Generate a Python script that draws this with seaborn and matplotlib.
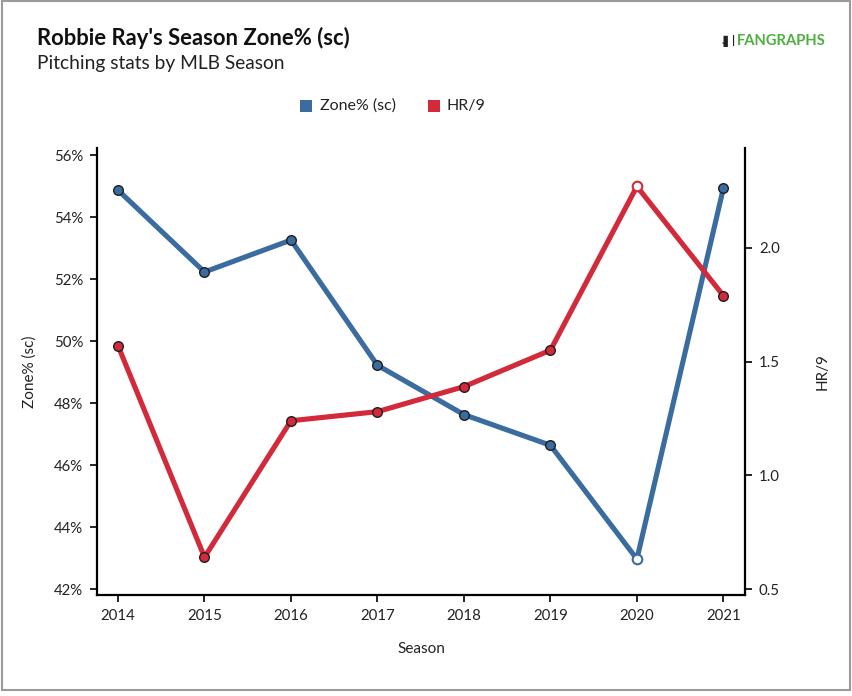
import matplotlib
matplotlib.use("Agg")
import matplotlib.pyplot as plt
from matplotlib.patches import Rectangle
from matplotlib.ticker import FuncFormatter, MultipleLocator
import seaborn as sns
import pandas as pd

seasons = [2014, 2015, 2016, 2017, 2018, 2019, 2020, 2021]
zone_pct = [54.87, 52.23, 53.26, 49.22, 47.63, 46.64, 42.97, 54.93]
hr9 = [1.57, 0.64, 1.24, 1.28, 1.39, 1.55, 2.27, 1.79]
partial = [False, False, False, False, False, False, True, False]

title = "Robbie Ray's Season Zone% (sc)"
subtitle = "Pitching stats by MLB Season"
zone_label = "Zone% (sc)"
hr_label = "HR/9"
x_label = "Season"

BLUE = "#3a6ca0"
RED = "#d22a3a"
EDGE = "#1e1e1e"

df = pd.DataFrame({"Season": seasons, "Zone": zone_pct, "HR9": hr9, "partial": partial})

sns.set_theme(style="white")
plt.rcParams["font.family"] = ["Lato", "DejaVu Sans"]

fig = plt.figure(figsize=(8.53, 6.96), dpi=100)
ax = fig.add_axes([97 / 853, 1 - 595 / 696, (745 - 97) / 853, (595 - 148) / 696])
ax2 = ax.twinx()

sns.lineplot(data=df, x="Season", y="Zone", ax=ax, color=BLUE, linewidth=3.7, zorder=2)
sns.lineplot(data=df, x="Season", y="HR9", ax=ax2, color=RED, linewidth=3.7, zorder=2)

full = df[~df["partial"]]
part = df[df["partial"]]
sns.scatterplot(data=full, x="Season", y="Zone", ax=ax, color=BLUE, edgecolor=EDGE,
                linewidth=1.0, s=48, zorder=3)
sns.scatterplot(data=part, x="Season", y="Zone", ax=ax, color="white", edgecolor=BLUE,
                linewidth=1.5, s=48, zorder=3)
sns.scatterplot(data=full, x="Season", y="HR9", ax=ax2, color=RED, edgecolor=EDGE,
                linewidth=1.0, s=48, zorder=3)
sns.scatterplot(data=part, x="Season", y="HR9", ax=ax2, color="white", edgecolor=RED,
                linewidth=1.5, s=48, zorder=3)

ax.set_xlim(2013.757, 2021.25)
ax.set_ylim(41.81, 56.23)
ax2.set_ylim(0.474, 2.439)
ax.set_xticks(seasons)
ax.yaxis.set_major_locator(MultipleLocator(2))
ax.yaxis.set_major_formatter(FuncFormatter(lambda v, p: f"{v:.0f}%"))
ax2.set_yticks([0.5, 1.0, 1.5, 2.0])
ax2.yaxis.set_major_formatter(FuncFormatter(lambda v, p: f"{v:.1f}"))

for a in (ax, ax2):
    a.set_facecolor("none")
    for s in a.spines.values():
        s.set_visible(False)
    a.grid(False)
ax.spines["left"].set_visible(True)
ax.spines["bottom"].set_visible(True)
ax2.spines["right"].set_visible(True)
for s in (ax.spines["left"], ax.spines["bottom"], ax2.spines["right"]):
    s.set_color("black")
    s.set_linewidth(1.6)

ax.tick_params(axis="both", which="major", direction="out", length=5, width=1.2,
               color="black", labelsize=10.8, labelcolor="#222222", pad=5,
               left=True, bottom=True)
ax2.tick_params(axis="y", which="major", direction="out", length=5, width=1.2,
                color="black", labelsize=10.8, labelcolor="#222222", pad=5, right=True)

ax.set_xlabel(x_label, fontsize=11, color="#222222", labelpad=14)
ax.set_ylabel(zone_label, fontsize=11, color="#222222", labelpad=12)
ax2.set_ylabel(hr_label, fontsize=11, color="#222222", labelpad=26)

# Titles
fig.text(37 / 853, 1 - 38 / 696, title, fontsize=15.8, fontweight="bold", color="#111111",
         ha="left", va="center")
fig.text(37 / 853, 1 - 64 / 696, subtitle, fontsize=13.8, color="#222222",
         ha="left", va="center")

# Legend
fig.patches.append(Rectangle((300 / 853, 1 - 112 / 696), 12 / 853, 12 / 696,
                             transform=fig.transFigure, facecolor=BLUE, edgecolor="none"))
fig.text(320 / 853, 1 - 106 / 696, zone_label, fontsize=11.5, color="#222222",
         ha="left", va="center")
fig.patches.append(Rectangle((428 / 853, 1 - 112 / 696), 12 / 853, 12 / 696,
                             transform=fig.transFigure, facecolor=RED, edgecolor="none"))
fig.text(447 / 853, 1 - 106 / 696, hr_label, fontsize=11.5, color="#222222",
         ha="left", va="center")

# Logo
fig.text(736 / 853, 1 - 41 / 696, ".\u258c|", fontsize=8, fontweight="bold", color="#222222",
         ha="right", va="center")
fig.text(737 / 853, 1 - 41 / 696, "FANGRAPHS", fontsize=10.6, fontweight="bold", color="#4caf3f",
         ha="left", va="center")

# Border
fig.patches.append(Rectangle((2 / 853, 1 - 690 / 696), 848 / 853, 689 / 696,
                             transform=fig.transFigure, facecolor="none",
                             edgecolor="#9a9a9a", linewidth=1.5))

fig.savefig("out.png", dpi=100, facecolor="white")
